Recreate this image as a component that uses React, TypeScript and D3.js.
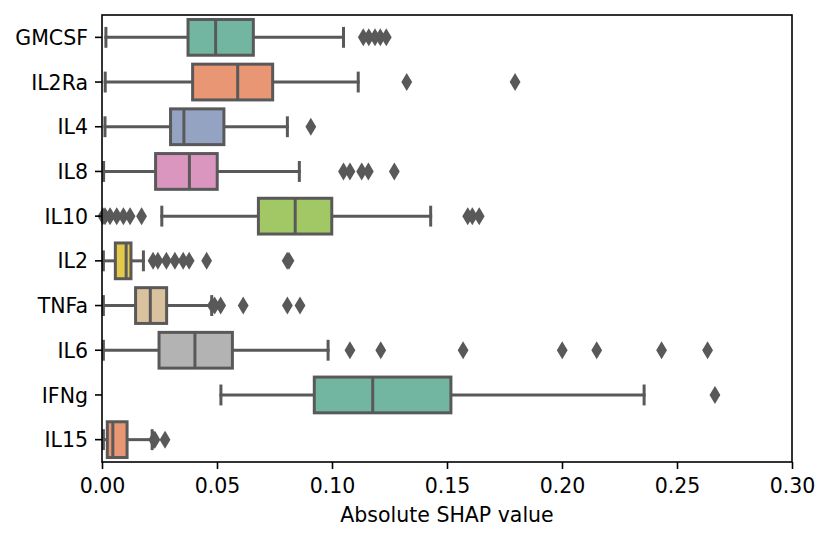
import { useEffect, useRef } from "react"
import * as d3 from "d3"

const categories = ["GMCSF", "IL2Ra", "IL4", "IL8", "IL10", "IL2", "TNFa", "IL6", "IFNg", "IL15"]
const whiskerLow = [0.0017, 0.0014, 0.0013, 0.0007, 0.026, 0.0006, 0.0006, 0.0006, 0.0517, 0.0006]
const q1 = [0.0374, 0.0394, 0.0298, 0.0233, 0.068, 0.0058, 0.0146, 0.0248, 0.0923, 0.0023]
const median = [0.0494, 0.059, 0.0356, 0.038, 0.084, 0.0105, 0.021, 0.0404, 0.1177, 0.0047]
const q3 = [0.0658, 0.0742, 0.053, 0.0501, 0.0999, 0.0126, 0.0281, 0.0567, 0.1517, 0.0109]
const whiskerHigh = [0.105, 0.1114, 0.0806, 0.0858, 0.1429, 0.018, 0.0477, 0.0983, 0.2357, 0.0218]
const outliers = [
  [0.1136, 0.116, 0.1187, 0.121, 0.1236],
  [0.1325, 0.1796],
  [0.0908],
  [0.105, 0.1078, 0.1129, 0.1158, 0.1271],
  [0.0004, 0.0013, 0.0035, 0.0064, 0.0093, 0.0122, 0.0172, 0.159, 0.161, 0.164],
  [0.0222, 0.0243, 0.028, 0.0317, 0.0353, 0.0379, 0.0455, 0.0805, 0.0813],
  [0.048, 0.049, 0.0516, 0.0614, 0.0806, 0.0861],
  [0.1078, 0.1212, 0.157, 0.2001, 0.2151, 0.2433, 0.2633],
  [0.2665],
  [0.0225, 0.023, 0.0274],
]
const xTicks = [0, 0.05, 0.1, 0.15, 0.2, 0.25, 0.3]

// seaborn Set2 at saturation 0.75
const set2 = ["#66c2a5", "#fc8d62", "#8da0cb", "#e78ac3", "#a6d854", "#ffd92f", "#e5c494", "#b3b3b3"]
const desat = (c: string) => {
  const h = d3.hsl(c)
  h.s *= 0.75
  return h.formatHex()
}

export default function App() {
  const svgRef = useRef<SVGSVGElement | null>(null)

  useEffect(() => {
    if (!svgRef.current) return
    d3.select(svgRef.current).selectAll("*").remove()

    const margin = { top: 15, right: 38, bottom: 78, left: 102 }
    const width = 830 - margin.left - margin.right
    const height = 540 - margin.top - margin.bottom
    const font = "DejaVu Sans, sans-serif"
    const fontSize = 20.5
    const gray = "#595959"

    const svg = d3.select(svgRef.current).append("g").attr("transform", `translate(${margin.left},${margin.top})`)

    const x = d3.scaleLinear().domain([0, 0.3]).range([0, width])
    const y = d3.scaleBand().domain(categories).range([0, height])
    const bw = y.bandwidth() * 0.8
    const capW = bw / 2

    const rows = categories.map((c, i) => ({
      cat: c,
      lo: whiskerLow[i],
      q1: q1[i],
      med: median[i],
      q3: q3[i],
      hi: whiskerHigh[i],
      out: outliers[i],
      color: desat(set2[i % set2.length]),
      cy: (y(c) as number) + y.bandwidth() / 2,
    }))

    const g = svg.selectAll(".box").data(rows).enter().append("g").attr("class", "box")

    // whiskers
    g.append("line")
      .attr("x1", (d) => x(d.q1))
      .attr("x2", (d) => x(d.lo))
      .attr("y1", (d) => d.cy)
      .attr("y2", (d) => d.cy)
    g.append("line")
      .attr("x1", (d) => x(d.q3))
      .attr("x2", (d) => x(d.hi))
      .attr("y1", (d) => d.cy)
      .attr("y2", (d) => d.cy)
    // caps
    g.append("line")
      .attr("x1", (d) => x(d.lo))
      .attr("x2", (d) => x(d.lo))
      .attr("y1", (d) => d.cy - capW / 2)
      .attr("y2", (d) => d.cy + capW / 2)
    g.append("line")
      .attr("x1", (d) => x(d.hi))
      .attr("x2", (d) => x(d.hi))
      .attr("y1", (d) => d.cy - capW / 2)
      .attr("y2", (d) => d.cy + capW / 2)
    g.selectAll("line").attr("stroke", gray).attr("stroke-width", 3).attr("stroke-linecap", "square")

    // boxes
    g.append("rect")
      .attr("x", (d) => x(d.q1))
      .attr("y", (d) => d.cy - bw / 2)
      .attr("width", (d) => x(d.q3) - x(d.q1))
      .attr("height", bw)
      .attr("fill", (d) => d.color)
      .attr("stroke", gray)
      .attr("stroke-width", 3)

    // medians
    g.append("line")
      .attr("x1", (d) => x(d.med))
      .attr("x2", (d) => x(d.med))
      .attr("y1", (d) => d.cy - bw / 2)
      .attr("y2", (d) => d.cy + bw / 2)
      .attr("stroke", gray)
      .attr("stroke-width", 3)

    // fliers (thin diamonds)
    const dh = 7.07
    const dw = dh * 0.6
    const diamond = `M0,${-dh}L${dw},0L0,${dh}L${-dw},0Z`
    g.selectAll(".flier")
      .data((d) => d.out.map((v) => ({ v, cy: d.cy })))
      .enter()
      .append("path")
      .attr("class", "flier")
      .attr("d", diamond)
      .attr("transform", (d) => `translate(${x(d.v)},${d.cy})`)
      .attr("fill", gray)
      .attr("stroke", gray)
      .attr("stroke-width", 2)

    // axes
    const xAxis = svg
      .append("g")
      .attr("transform", `translate(0,${height})`)
      .call(d3.axisBottom(x).tickValues(xTicks).tickFormat(d3.format(".2f")).tickSize(7).tickSizeOuter(0))
    xAxis.select(".domain").remove()
    xAxis.selectAll("line").attr("stroke", "#000").attr("stroke-width", 1.6)
    xAxis.selectAll("text").attr("y", 31).attr("dy", null).attr("fill", "#000").attr("font-size", fontSize).attr("font-family", font)

    const yAxis = svg.append("g").call(d3.axisLeft(y).tickSize(7).tickSizeOuter(0))
    yAxis.select(".domain").remove()
    yAxis.selectAll("line").attr("stroke", "#000").attr("stroke-width", 1.6)
    yAxis.selectAll("text").attr("x", -14).attr("dy", "0.37em").attr("fill", "#000").attr("font-size", fontSize).attr("font-family", font)

    // spines
    svg
      .append("rect")
      .attr("width", width)
      .attr("height", height)
      .attr("fill", "none")
      .attr("stroke", "#000")
      .attr("stroke-width", 1.6)

    svg
      .append("text")
      .attr("x", width / 2)
      .attr("y", height + 60)
      .attr("text-anchor", "middle")
      .attr("font-size", fontSize)
      .attr("font-family", font)
      .attr("fill", "#000")
      .text("Absolute SHAP value")
  }, [])

  return (
    <svg
      ref={svgRef}
      width={830}
      height={540}
      style={{ position: "absolute", left: 0, top: 0, background: "#fff" }}
    ></svg>
  )
}
